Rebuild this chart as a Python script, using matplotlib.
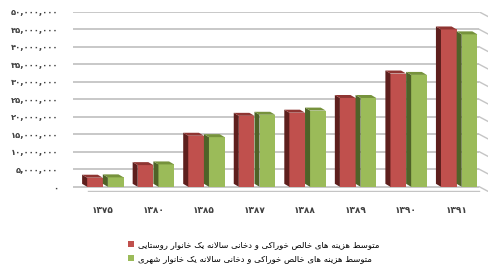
import matplotlib
matplotlib.use('Agg')
import matplotlib.pyplot as plt
from matplotlib.patches import Polygon
from matplotlib.ticker import FuncFormatter

# data (in rials)
years = ['۱۳۷۵', '۱۳۸۰', '۱۳۸۵', '۱۳۸۷', '۱۳۸۸', '۱۳۸۹', '۱۳۹۰', '۱۳۹۱']
rural = [2600000, 6200000, 14600000, 20300000, 21200000, 25400000, 32400000, 45000000]
urban = [2700000, 6400000, 14200000, 20600000, 21800000, 25400000, 32000000, 43600000]
label_rural = 'متوسط هزینه های خالص خوراکی و دخانی سالانه یک خانوار روستایی'
label_urban = 'متوسط هزینه های خالص خوراکی و دخانی سالانه یک خانوار شهری'

# minimal persian shaping (matplotlib has no bidi / joining)
FORMS = {
    'ا': ('\uFE8D', '\uFE8E', None, None),
    'ب': ('\uFE8F', '\uFE90', '\uFE91', '\uFE92'),
    'ت': ('\uFE95', '\uFE96', '\uFE97', '\uFE98'),
    'ح': ('\uFEA1', '\uFEA2', '\uFEA3', '\uFEA4'),
    'خ': ('\uFEA5', '\uFEA6', '\uFEA7', '\uFEA8'),
    'د': ('\uFEA9', '\uFEAA', None, None),
    'ر': ('\uFEAD', '\uFEAE', None, None),
    'ز': ('\uFEAF', '\uFEB0', None, None),
    'س': ('\uFEB1', '\uFEB2', '\uFEB3', '\uFEB4'),
    'ش': ('\uFEB5', '\uFEB6', '\uFEB7', '\uFEB8'),
    'ص': ('\uFEB9', '\uFEBA', '\uFEBB', '\uFEBC'),
    'ط': ('\uFEC1', '\uFEC2', '\uFEC3', '\uFEC4'),
    'ل': ('\uFEDD', '\uFEDE', '\uFEDF', '\uFEE0'),
    'م': ('\uFEE1', '\uFEE2', '\uFEE3', '\uFEE4'),
    'ن': ('\uFEE5', '\uFEE6', '\uFEE7', '\uFEE8'),
    'ه': ('\uFEE9', '\uFEEA', '\uFEEB', '\uFEEC'),
    'و': ('\uFEED', '\uFEEE', None, None),
    'ی': ('\uFBFC', '\uFBFD', '\uFBFE', '\uFBFF'),
    'ک': ('\uFB8E', '\uFB8F', '\uFB90', '\uFB91'),
}


def joins_next(c):
    return c in FORMS and FORMS[c][2] is not None


def shape(text):
    out = []
    i = 0
    while i < len(text):
        c = text[i]
        if c not in FORMS:
            out.append(c)
            i += 1
            continue
        jp = i > 0 and joins_next(text[i - 1])
        if c == 'ل' and i + 1 < len(text) and text[i + 1] == 'ا':
            out.append('\uFEFC' if jp else '\uFEFB')
            i += 2
            continue
        jn = joins_next(c) and i + 1 < len(text) and text[i + 1] in FORMS
        iso, fin, ini, med = FORMS[c]
        if jp and jn:
            out.append(med)
        elif jp:
            out.append(fin)
        elif jn:
            out.append(ini)
        else:
            out.append(iso)
        i += 1
    return ''.join(reversed(out))


def fa_num(v, pos=None):
    s = '{:,}'.format(int(v))
    return s.translate(str.maketrans('0123456789', '۰۱۲۳۴۵۶۷۸۹'))


plt.rcParams['font.family'] = ['DejaVu Sans']

fig = plt.figure(figsize=(5, 2.72), dpi=100)
ax = fig.add_axes([0.144, 0.294, 0.832, 0.662])

x = list(range(len(years)))
w = 0.31
dx, dy = 0.1, 850000

series = [
    (rural, [xi - w for xi in x], '#c0504d', '#5e1f1d', '#8f3532', label_rural),
    (urban, [xi + 0.1 for xi in x], '#9bbb59', '#4f6228', '#76923c', label_urban),
]
handles = []
for vals, lefts, front, side, top, lab in series:
    bars = ax.bar(lefts, vals, width=w, align='edge', color=front, zorder=3)
    handles.append((bars, lab))
    # fake 3d: side and top faces
    for b in bars:
        x0, h = b.get_x(), b.get_height()
        ax.add_patch(Polygon([(x0, 0), (x0, h), (x0 - dx, h + dy), (x0 - dx, dy)],
                             closed=True, color=side, zorder=3, lw=0))
        ax.add_patch(Polygon([(x0, h), (x0 + w, h), (x0 + w - dx, h + dy), (x0 - dx, h + dy)],
                             closed=True, color=top, zorder=3, lw=0))

ax.set_xlim(-0.61, 7.62)
ax.set_ylim(-1500000, 50000000)
ticks = list(range(0, 50000001, 5000000))
ax.set_yticks(ticks)
ax.yaxis.set_major_formatter(FuncFormatter(fa_num))
ax.set_xticks(x)
ax.set_xticklabels(years)
for s in ax.spines.values():
    s.set_visible(False)
ax.hlines(ticks, -0.6, 7.45, color='#c4c4c4', lw=1.3, zorder=1)
for t in ticks:
    ax.plot([7.45, 7.62], [t, t - 1300000], color='#c4c4c4', lw=1.0, zorder=1)
ax.plot([-0.3, 7.45], [-1300000, -1300000], color='#c4c4c4', lw=1.0, zorder=1)
ax.tick_params(axis='both', length=0, labelsize=6.5, colors='#404040')
ax.tick_params(axis='y', pad=10, labelsize=6)
ax.tick_params(axis='x', pad=10)
for t in ax.get_xticklabels() + ax.get_yticklabels():
    t.set_fontweight('bold')

fig.legend([h[0] for h in handles], [shape(h[1]) for h in handles],
           loc='upper left', bbox_to_anchor=(0.25, 0.13),
           frameon=False, fontsize=6.1, handlelength=0.7, handleheight=0.7,
           handletextpad=0.4, labelspacing=0.6, borderaxespad=0)

fig.savefig('out.png', dpi=100, facecolor='white')
